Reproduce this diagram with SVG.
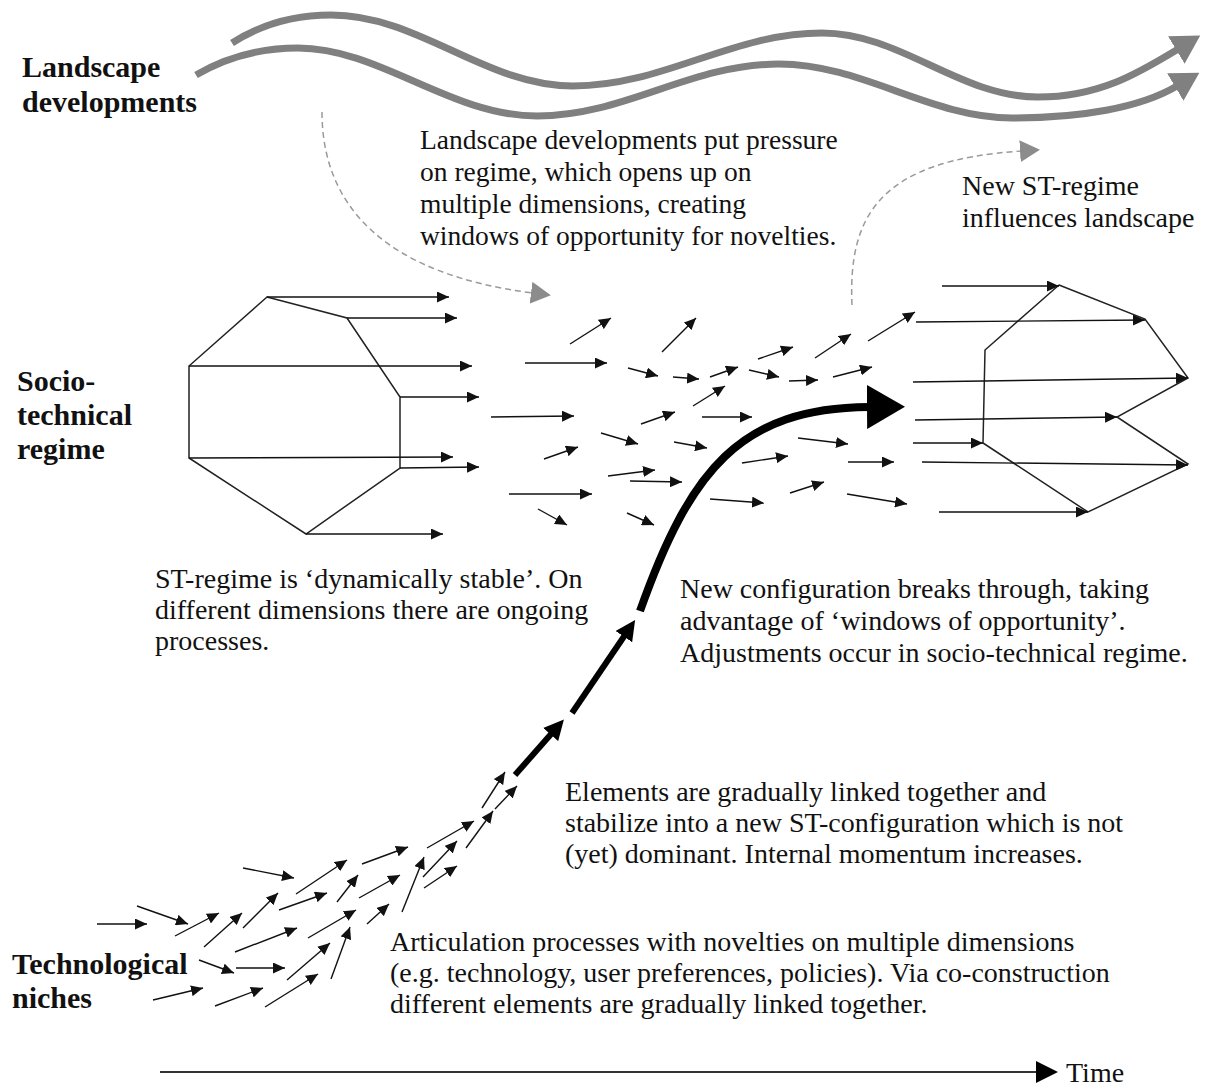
<svg xmlns="http://www.w3.org/2000/svg" width="1209" height="1086" viewBox="0 0 1209 1086">
<defs>
<style>
.a{stroke:#111;stroke-width:1.4;fill:none;marker-end:url(#ah)}
.oct{fill:none;stroke:#222;stroke-width:1.5;stroke-linejoin:miter}
.wave{fill:none;stroke:#808080;stroke-width:7;marker-end:url(#ahWave)}
.dash{fill:none;stroke:#9a9a9a;stroke-width:1.5;stroke-dasharray:6 4;marker-end:url(#ahDash)}
.thick{fill:none;stroke:#000;stroke-width:6;marker-end:url(#ahThick)}
.big{fill:none;stroke:#000;stroke-width:8;marker-end:url(#ahBig)}
.time{fill:none;stroke:#333;stroke-width:2;marker-end:url(#ahTime)}
.t{font-family:"Liberation Serif","Times New Roman",serif;font-size:28px;fill:#111}
.p{font-size:27.5px}
.b{font-weight:bold;font-size:30px}
</style>
<marker id="ah" markerUnits="userSpaceOnUse" viewBox="0 0 12 11" markerWidth="12" markerHeight="11" refX="12" refY="5.5" orient="auto"><path d="M0,0 L12,5.5 L0,11 z" fill="#111"/></marker>
<marker id="ahWave" markerUnits="userSpaceOnUse" viewBox="0 0 28 32" markerWidth="28" markerHeight="32" refX="2" refY="16" orient="auto"><path d="M0,0 L28,16 L0,32 z" fill="#808080"/></marker>
<marker id="ahDash" markerUnits="userSpaceOnUse" viewBox="0 0 20 22" markerWidth="20" markerHeight="22" refX="2" refY="11" orient="auto"><path d="M0,0 L20,11 L0,22 z" fill="#8c8c8c"/></marker>
<marker id="ahThick" markerUnits="userSpaceOnUse" viewBox="0 0 20 20" markerWidth="20" markerHeight="20" refX="2" refY="10" orient="auto"><path d="M0,0 L20,10 L0,20 z" fill="#000"/></marker>
<marker id="ahBig" markerUnits="userSpaceOnUse" viewBox="0 0 38 44" markerWidth="38" markerHeight="44" refX="2" refY="22" orient="auto"><path d="M0,0 L38,22 L0,44 z" fill="#000"/></marker>
<marker id="ahTime" markerUnits="userSpaceOnUse" viewBox="0 0 22 22" markerWidth="22" markerHeight="22" refX="2" refY="11" orient="auto"><path d="M0,0 L22,11 L0,22 z" fill="#000"/></marker>
</defs>
<rect width="1209" height="1086" fill="#fff"/>

<g id="landscape-label">
<text class="t b" x="22" y="77">Landscape</text>
<text class="t b" x="22" y="112">developments</text>
</g>
<g id="regime-label">
<text class="t b" x="17" y="391">Socio-</text>
<text class="t b" x="17" y="425">technical</text>
<text class="t b" x="17" y="459">regime</text>
</g>
<g id="niches-label">
<text class="t b" x="12" y="974">Technological</text>
<text class="t b" x="12" y="1008">niches</text>
</g>

<g id="note-landscape-pressure">
<text class="t p" x="420" y="149">Landscape developments put pressure</text>
<text class="t p" x="420" y="181">on regime, which opens up on</text>
<text class="t p" x="420" y="213">multiple dimensions, creating</text>
<text class="t p" x="420" y="245">windows of opportunity for novelties.</text>
</g>
<g id="note-new-regime">
<text class="t" x="962" y="195">New ST-regime</text>
<text class="t" x="962" y="227">influences landscape</text>
</g>
<g id="note-stable">
<text class="t" x="155" y="588">ST-regime is ‘dynamically stable’. On</text>
<text class="t" x="155" y="619">different dimensions there are ongoing</text>
<text class="t" x="155" y="650">processes.</text>
</g>
<g id="note-breakthrough">
<text class="t" x="680" y="598">New configuration breaks through, taking</text>
<text class="t" x="680" y="630">advantage of ‘windows of opportunity’.</text>
<text class="t" x="680" y="662">Adjustments occur in socio-technical regime.</text>
</g>
<g id="note-elements">
<text class="t" x="565" y="801">Elements are gradually linked together and</text>
<text class="t" x="565" y="832">stabilize into a new ST-configuration which is not</text>
<text class="t" x="565" y="863">(yet) dominant. Internal momentum increases.</text>
</g>
<g id="note-articulation">
<text class="t" x="390" y="951">Articulation processes with novelties on multiple dimensions</text>
<text class="t" x="390" y="982">(e.g. technology, user preferences, policies). Via co-construction</text>
<text class="t" x="390" y="1013">different elements are gradually linked together.</text>
</g>
<g id="time-label">
<text class="t" x="1066" y="1082">Time</text>
</g>

<g id="old-regime">
<polygon class="oct" points="267,297 347,318 400,397 400,468 306,534 189,458 189,366"/>
</g>
<g id="new-regime">
<polygon class="oct" points="1059,285 1145,319 1188,378 1117,417 1188,464 1088,512 983,443 985,350"/>
</g>

<g id="connectors">
<path class="wave" d="M232,43 C260,25 295,15 331,15 C419,15 485,86 573,86 C664,86 731,33 822,33 C901,33 959,97 1038,97 C1100,97 1140,72 1178,49"/>
<path class="wave" d="M196,75 C225,58 260,48 298,48 C380,48 450,116 537,116 C625,116 690,64 779,64 C862,64 930,118 1012,118 C1080,118 1140,108 1177,86"/>
<path class="dash" d="M322,112 C322,210 390,275 533,293"/>
<path class="dash" d="M852,305 C848,215 880,160 1022,151"/>

<line class="a" x1="267" y1="297" x2="449" y2="297"/>
<line class="a" x1="347" y1="318" x2="457" y2="318"/>
<line class="a" x1="189" y1="366" x2="472" y2="366"/>
<line class="a" x1="400" y1="397" x2="479" y2="397"/>
<line class="a" x1="189" y1="458" x2="453" y2="457"/>
<line class="a" x1="400" y1="468" x2="479" y2="467"/>
<line class="a" x1="306" y1="534" x2="443" y2="534"/>

<line class="a" x1="491" y1="417" x2="574" y2="416"/>
<line class="a" x1="544" y1="459" x2="578" y2="447"/>
<line class="a" x1="509" y1="494" x2="592" y2="494"/>
<line class="a" x1="538" y1="509" x2="567" y2="525"/>
<line class="a" x1="570" y1="344" x2="611" y2="318"/>
<line class="a" x1="525" y1="363" x2="607" y2="363"/>
<line class="a" x1="662" y1="352" x2="696" y2="318"/>
<line class="a" x1="628" y1="368" x2="658" y2="376"/>
<line class="a" x1="673" y1="377" x2="699" y2="379"/>
<line class="a" x1="710" y1="377" x2="738" y2="367"/>
<line class="a" x1="758" y1="359" x2="793" y2="347"/>
<line class="a" x1="749" y1="370" x2="779" y2="377"/>
<line class="a" x1="789" y1="381" x2="818" y2="380"/>
<line class="a" x1="815" y1="358" x2="851" y2="334"/>
<line class="a" x1="833" y1="377" x2="872" y2="367"/>
<line class="a" x1="868" y1="341" x2="915" y2="312"/>
<line class="a" x1="693" y1="406" x2="725" y2="386"/>
<line class="a" x1="641" y1="424" x2="675" y2="412"/>
<line class="a" x1="702" y1="417" x2="752" y2="417"/>
<line class="a" x1="601" y1="433" x2="638" y2="444"/>
<line class="a" x1="674" y1="442" x2="707" y2="448"/>
<line class="a" x1="798" y1="438" x2="848" y2="444"/>
<line class="a" x1="608" y1="476" x2="655" y2="470"/>
<line class="a" x1="630" y1="481" x2="682" y2="482"/>
<line class="a" x1="742" y1="463" x2="788" y2="456"/>
<line class="a" x1="848" y1="462" x2="894" y2="462"/>
<line class="a" x1="710" y1="499" x2="764" y2="503"/>
<line class="a" x1="790" y1="493" x2="824" y2="482"/>
<line class="a" x1="847" y1="494" x2="907" y2="504"/>
<line class="a" x1="627" y1="513" x2="654" y2="525"/>

<line class="a" x1="942" y1="286" x2="1059" y2="286"/>
<line class="a" x1="916" y1="322" x2="1145" y2="320"/>
<line class="a" x1="913" y1="382" x2="1188" y2="378"/>
<line class="a" x1="915" y1="420" x2="1117" y2="417"/>
<line class="a" x1="913" y1="443" x2="983" y2="443"/>
<line class="a" x1="922" y1="462" x2="1188" y2="465"/>
<line class="a" x1="939" y1="512" x2="1088" y2="512"/>

<line class="a" x1="97" y1="924" x2="147" y2="924"/>
<line class="a" x1="137" y1="906" x2="188" y2="924"/>
<line class="a" x1="175" y1="936" x2="219" y2="913"/>
<line class="a" x1="204" y1="947" x2="242" y2="913"/>
<line class="a" x1="243" y1="928" x2="278" y2="893"/>
<line class="a" x1="243" y1="868" x2="294" y2="878"/>
<line class="a" x1="296" y1="894" x2="347" y2="860"/>
<line class="a" x1="279" y1="910" x2="327" y2="893"/>
<line class="a" x1="337" y1="902" x2="358" y2="875"/>
<line class="a" x1="362" y1="864" x2="408" y2="847"/>
<line class="a" x1="359" y1="898" x2="400" y2="875"/>
<line class="a" x1="308" y1="938" x2="356" y2="910"/>
<line class="a" x1="235" y1="952" x2="297" y2="928"/>
<line class="a" x1="367" y1="924" x2="389" y2="904"/>
<line class="a" x1="402" y1="912" x2="424" y2="857"/>
<line class="a" x1="423" y1="877" x2="457" y2="841"/>
<line class="a" x1="424" y1="888" x2="457" y2="866"/>
<line class="a" x1="427" y1="848" x2="474" y2="821"/>
<line class="a" x1="466" y1="848" x2="493" y2="811"/>
<line class="a" x1="482" y1="808" x2="505" y2="772"/>
<line class="a" x1="495" y1="809" x2="517" y2="786"/>
<line class="a" x1="199" y1="960" x2="234" y2="973"/>
<line class="a" x1="236" y1="968" x2="285" y2="968"/>
<line class="a" x1="287" y1="980" x2="330" y2="943"/>
<line class="a" x1="331" y1="979" x2="350" y2="927"/>
<line class="a" x1="153" y1="1000" x2="203" y2="988"/>
<line class="a" x1="215" y1="1006" x2="263" y2="988"/>
<line class="a" x1="265" y1="1007" x2="318" y2="974"/>

<line class="thick" x1="515" y1="775" x2="552" y2="733"/>
<line class="thick" x1="572" y1="713" x2="625" y2="635"/>
<path class="big" d="M640,611 C690,470 740,408 869,407"/>

<line class="time" x1="160" y1="1072" x2="1038" y2="1072"/>
</g>
</svg>
